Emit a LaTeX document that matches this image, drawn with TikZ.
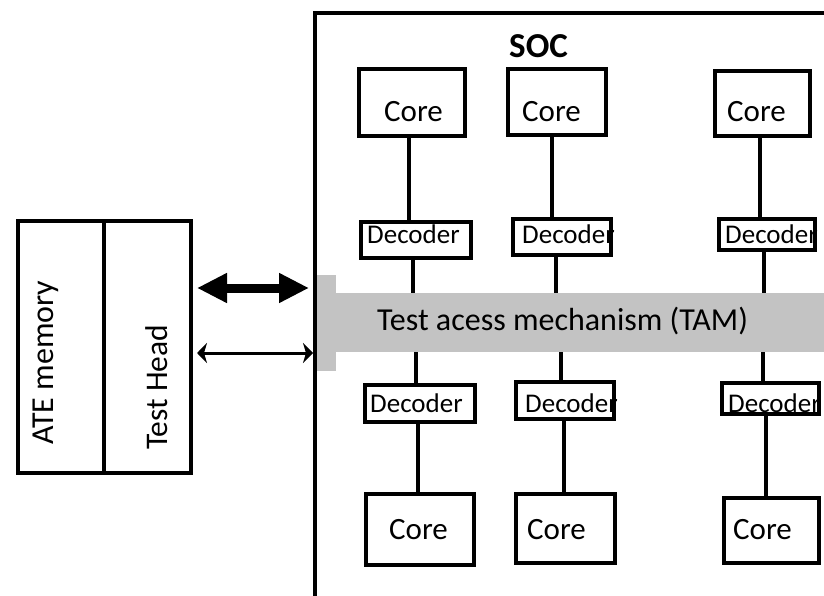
\documentclass[tikz,border=0pt]{standalone}
\usepackage{fontspec}
\setmainfont{Carlito}
\usetikzlibrary{arrows.meta}
\definecolor{tamgray}{RGB}{195,195,195}
\begin{document}
\begin{tikzpicture}[x=1pt,y=-1pt,
  box/.style={draw, line width=4pt, inner sep=0pt, outer sep=0pt},
  sz/.style 2 args={minimum width=#1pt, minimum height=#2pt},
  conn/.style={line width=4pt},
  coretxt/.style={font=\fontsize{31}{36}\selectfont, anchor=base west, inner sep=0pt},
  dectxt/.style={font=\fontsize{27}{32}\selectfont, anchor=base west, inner sep=0pt},
  bigtxt/.style={font=\fontsize{32}{38}\selectfont, anchor=base west, inner sep=0pt},
  bigarrow/.style={line width=9pt, {Triangle[length=30pt,width=28pt]}-{Triangle[length=30pt,width=28pt]}},
  thinarrow/.style={line width=3pt, {Stealth[length=10pt,width=20pt,inset=3pt]}-{Stealth[length=10pt,width=20pt,inset=3pt]}}
]
\useasboundingbox (0,0) rectangle (824,596);
\fill[white] (0,0) rectangle (824,596);

% TAM bar
\node[fill=tamgray, inner sep=0pt, outer sep=0pt, sz={507}{59}] (tam) at (570.5,322.5) {};
\fill[tamgray] (317,275) rectangle (336,371);
\node[bigtxt] (tamt) at (377,330) {Test acess mechanism (TAM)};

% SOC outline
\coordinate (soc) at (315,13);
\draw[line width=4pt, line join=miter] (824,13) -- (soc) -- (315,600);
\node[font=\fontsize{35}{40}\selectfont\bfseries, anchor=base west, inner sep=0pt] (soct) at (509,58) {SOC};

% texts
\node[coretxt] (c1t) at (384,122) {Core};
\node[coretxt] (c2t) at (522,122) {Core};
\node[coretxt] (c3t) at (727,122) {Core};
\node[coretxt] (c4t) at (389,539) {Core};
\node[coretxt] (c5t) at (527,539) {Core};
\node[coretxt] (c6t) at (733,539) {Core};
\node[dectxt] (d1t) at (367,243) {Decoder};
\node[dectxt] (d2t) at (522,243) {Decoder};
\node[dectxt] (d3t) at (725,243) {Decoder};
\node[dectxt] (d4t) at (370,412) {Decoder};
\node[dectxt] (d5t) at (525,412) {Decoder};
\node[dectxt] (d6t) at (728,412) {Decoder};

% boxes
\node[box, sz={106}{67}] (c1) at (412,102.5) {};
\node[box, sz={98}{66}]  (c2) at (557,102) {};
\node[box, sz={95}{65}]  (c3) at (762.5,103.5) {};
\node[box, sz={110}{36}] (d1) at (416,240) {};
\node[box, sz={98}{36}]  (d2) at (562,237) {};
\node[box, sz={96}{31}]  (d3) at (767,234.5) {};
\node[box, sz={110}{37}] (d4) at (420,403.5) {};
\node[box, sz={98}{37}]  (d5) at (565,400.5) {};
\node[box, sz={97}{31}]  (d6) at (770.5,398.5) {};
\node[box, sz={108}{71}] (c4) at (420,529.5) {};
\node[box, sz={99}{69}]  (c5) at (565.5,528.5) {};
\node[box, sz={95}{65}]  (c6) at (771.5,530.5) {};

% connectors
\draw[conn] ([xshift=-3pt]c1.south) -- ([xshift=-3pt]c1.south |- d1.north);
\draw[conn] ([xshift=-3pt]d1.south) -- ([xshift=-3pt]d1.south |- tam.north);
\draw[conn] ([xshift=-4pt]d4.north) -- ([xshift=-4pt]d4.north |- tam.south);
\draw[conn] ([xshift=-2pt]d4.south) -- ([xshift=-2pt]d4.south |- c4.north);
\draw[conn] ([xshift=-5pt]c2.south) -- ([xshift=-5pt]c2.south |- d2.north);
\draw[conn] ([xshift=-6pt]d2.south) -- ([xshift=-6pt]d2.south |- tam.north);
\draw[conn] ([xshift=-4pt]d5.north) -- ([xshift=-4pt]d5.north |- tam.south);
\draw[conn] ([xshift=-1pt]d5.south) -- ([xshift=-1pt]d5.south |- c5.north);
\draw[conn] ([xshift=-2.5pt]c3.south) -- ([xshift=-2.5pt]c3.south |- d3.north);
\draw[conn] ([xshift=-3pt]d3.south) -- ([xshift=-3pt]d3.south |- tam.north);
\draw[conn] ([xshift=-7.5pt]d6.north) -- ([xshift=-7.5pt]d6.north |- tam.south);
\draw[conn] ([xshift=-4.5pt]d6.south) -- ([xshift=-4.5pt]d6.south |- c6.north);

% ATE
\node[box, sz={86}{252}] (ate) at (61,347) {};
\node[box, sz={86.5}{252}] (head) at (147.25,347) {};
\node[bigtxt, rotate=90] (atet) at (53,445) {ATE memory};
\node[bigtxt, rotate=90, font=\fontsize{31.5}{37}\selectfont] (headt) at (167,450) {Test Head};

% arrows
\draw[bigarrow, shorten <=6.5pt, shorten >=6pt] ([yshift=59pt]head.east) -- ([yshift=59pt]head.east -| soc);
\draw[thinarrow, shorten <=6.5pt, shorten >=2pt] ([yshift=-6pt]head.east) -- ([yshift=-6pt]head.east -| soc);
\end{tikzpicture}
\end{document}
